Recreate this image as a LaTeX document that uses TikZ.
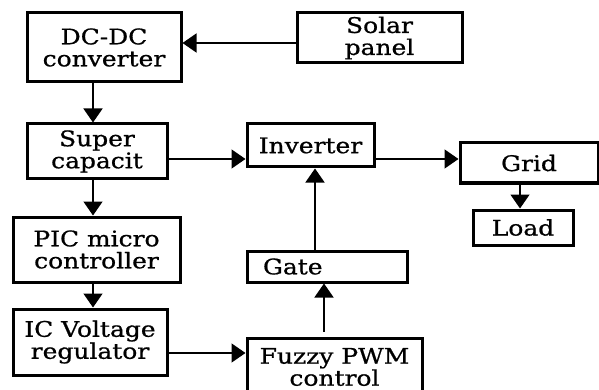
\documentclass[tikz,border=0pt]{standalone}
\usepackage{fontspec}
\setmainfont[FakeStretch=1.16, FakeBold=0.8]{DejaVu Serif}
\usetikzlibrary{arrows.meta}
\begin{document}
\begin{tikzpicture}[x=1pt,y=-1pt,
  blk/.style={draw, line width=3pt, inner sep=0pt, align=center,
    font=\fontsize{21.5}{22}\selectfont},
  arr/.style={line width=1.5pt, -{Triangle[width=19pt,length=14pt]}}]
\useasboundingbox (0,0) rectangle (599,390);
\node[blk, minimum width=154, minimum height=69] (dc) at (104,47.5) {DC-DC\\converter};
\node[blk, minimum width=165, minimum height=50] (solar) at (379.5,38) {Solar\\panel};
\node[blk, minimum width=140, minimum height=55] (super) at (97,151.5) {Super\\capacit};
\node[blk, minimum width=127, minimum height=43] (inv) at (310.5,145.5) {Inverter};
\node[blk, minimum width=138, minimum height=40] (grid) at (529,163) {Grid};
\node[blk, minimum width=100, minimum height=35] (load) at (523,227.5) {Load};
\node[blk, minimum height=31, text width=128, inner xsep=16, align=left] (gate) at (327,266.5) {Gate};
\node[blk, minimum width=175, minimum height=58] (fuzzy) at (334.5,367) {Fuzzy PWM\\control};
\node[blk, minimum width=167, minimum height=65] (pic) at (96.5,249.5) {PIC micro\\controller};
\node[blk, minimum width=154, minimum height=66] (ic) at (90,342) {IC Voltage\\regulator};
\coordinate (vx) at (93,0);
\coordinate (hs) at (0,43);
\coordinate (h2) at (0,159);
\coordinate (hy) at (0,353);
\coordinate (v2) at (520,0);
\coordinate (v3) at (315,0);
\coordinate (v4) at (324,0);
\draw[arr] (solar.west |- hs) -- (dc.east |- hs);
\draw[arr] (dc.south -| vx) -- (super.north -| vx);
\draw[arr] (super.south -| vx) -- (pic.north -| vx);
\draw[arr] (pic.south -| vx) -- (ic.north -| vx);
\draw[arr] (ic.east |- hy) -- (fuzzy.west |- hy);
\draw[arr] (super.east |- h2) -- (inv.west |- h2);
\draw[arr] (inv.east |- h2) -- (grid.west |- h2);
\draw[arr] (grid.south -| v2) -- (load.north -| v2);
\draw[arr] (gate.north -| v3) -- (inv.south -| v3);
\draw[arr] ([yshift=5pt]fuzzy.north -| v4) -- (gate.south -| v4);
\end{tikzpicture}
\end{document}
